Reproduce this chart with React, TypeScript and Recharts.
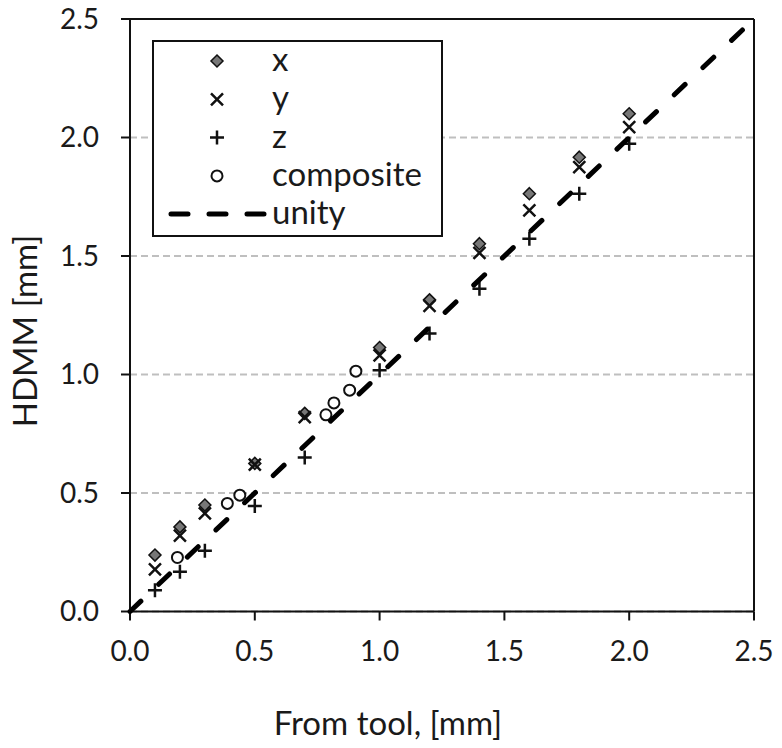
import {
  CartesianGrid,
  Label,
  Legend,
  ReferenceLine,
  Scatter,
  ScatterChart,
  XAxis,
  YAxis,
} from "recharts";

const toolValues = [0.1, 0.2, 0.3, 0.5, 0.7, 1.0, 1.2, 1.4, 1.6, 1.8, 2.0];
const xSeries = [0.238, 0.357, 0.449, 0.625, 0.836, 1.114, 1.315, 1.552, 1.763, 1.917, 2.1];
const ySeries = [0.178, 0.32, 0.414, 0.62, 0.82, 1.081, 1.29, 1.513, 1.693, 1.875, 2.044];
const zSeries = [0.09, 0.168, 0.256, 0.445, 0.65, 1.018, 1.173, 1.362, 1.573, 1.763, 1.974];
const compositeTool = [0.19, 0.39, 0.44, 0.785, 0.817, 0.88, 0.905];
const compositeHdmm = [0.228, 0.456, 0.491, 0.83, 0.88, 0.934, 1.014];
const unityValues = [0, 2.5];
const ticks = [0, 0.5, 1.0, 1.5, 2.0, 2.5];

const pair = (xs: number[], ys: number[]) => xs.map((x, i) => ({ x, y: ys[i] }));

const xData = pair(toolValues, xSeries);
const yData = pair(toolValues, ySeries);
const zData = pair(toolValues, zSeries);
const compositeData = pair(compositeTool, compositeHdmm);
const unityData = pair(unityValues, unityValues);

const FONT = "Lato, 'Open Sans', sans-serif";
const TEXT = "#1a1a1a";

const Diamond = ({ cx, cy }: any) => (
  <path
    d={`M${cx},${cy - 6} L${cx + 6},${cy} L${cx},${cy + 6} L${cx - 6},${cy} Z`}
    fill="#777"
    stroke="#111"
    strokeWidth={1.5}
  />
);

const Cross = ({ cx, cy }: any) => (
  <path
    d={`M${cx - 6},${cy - 6} L${cx + 6},${cy + 6} M${cx - 6},${cy + 6} L${cx + 6},${cy - 6}`}
    stroke="#111"
    strokeWidth={2.5}
  />
);

const Plus = ({ cx, cy }: any) => (
  <path
    d={`M${cx - 7},${cy} L${cx + 7},${cy} M${cx},${cy - 7} L${cx},${cy + 7}`}
    stroke="#111"
    strokeWidth={2.5}
  />
);

const Ring = ({ cx, cy }: any) => (
  <circle cx={cx} cy={cy} r={5.5} fill="#fff" stroke="#111" strokeWidth={2} />
);

const legendRows = [
  { name: "x", Shape: Diamond },
  { name: "y", Shape: Cross },
  { name: "z", Shape: Plus },
  { name: "composite", Shape: Ring },
];

function LegendBox() {
  return (
    <div
      style={{
        width: 291,
        height: 197,
        border: "2px solid #111",
        background: "#fff",
        boxSizing: "border-box",
      }}
    >
      <svg width={287} height={193} style={{ display: "block", overflow: "visible" }}>
        {legendRows.map((r, i) => (
          <g key={r.name}>
            <r.Shape cx={63} cy={19 + i * 38.3} />
            <text x={118} y={29 + i * 38.3} fontFamily={FONT} fontSize={33} fill={TEXT}>
              {r.name}
            </text>
          </g>
        ))}
        <line
          x1={17}
          y1={172}
          x2={111}
          y2={172}
          stroke="#000"
          strokeWidth={5}
          strokeDasharray="17 21"
          strokeLinecap="round"
        />
        <text x={118} y={182} fontFamily={FONT} fontSize={33} fill={TEXT}>
          unity
        </text>
      </svg>
    </div>
  );
}

export default function App() {
  return (
    <div style={{ position: "absolute", left: 0, top: 0, background: "#fff" }}>
      <ScatterChart width={782} height={748} margin={{ top: 19, right: 28, left: 0, bottom: 36.5 }}>
        <CartesianGrid
          vertical={false}
          stroke="#bfbfbf"
          strokeWidth={2}
          strokeDasharray="7 4"
        />
        <XAxis
          type="number"
          dataKey="x"
          domain={[0, 2.5]}
          ticks={ticks}
          interval={0}
          height={100}
          tickFormatter={(v: number) => v.toFixed(1)}
          tickSize={9}
          tickMargin={21}
          axisLine={{ stroke: "#111", strokeWidth: 2 }}
          tickLine={{ stroke: "#111", strokeWidth: 2 }}
          tick={{ fill: TEXT, fontSize: 28, fontFamily: FONT }}
        >
          <Label
            content={({ viewBox }: any) => (
              <text
                x={viewBox.x + 258}
                y={viewBox.y + 123.5}
                textAnchor="middle"
                fontFamily={FONT}
                fontSize={33}
                fill={TEXT}
              >
                From tool, [mm]
              </text>
            )}
          />
        </XAxis>
        <YAxis
          type="number"
          dataKey="y"
          domain={[0, 2.5]}
          ticks={ticks}
          interval={0}
          width={130}
          tickFormatter={(v: number) => v.toFixed(1)}
          tickSize={9}
          tickMargin={22}
          axisLine={{ stroke: "#111", strokeWidth: 2 }}
          tickLine={{ stroke: "#111", strokeWidth: 2 }}
          tick={{ fill: TEXT, fontSize: 28, fontFamily: FONT }}
        >
          <Label
            content={() => (
              <text
                x={37}
                y={331}
                transform="rotate(-90 37 331)"
                textAnchor="middle"
                fontFamily={FONT}
                fontSize={33}
                fill={TEXT}
              >
                HDMM [mm]
              </text>
            )}
          />
        </YAxis>
        <ReferenceLine y={2.5} stroke="#111" strokeWidth={2} />
        <ReferenceLine x={2.5} stroke="#111" strokeWidth={2} />
        <Scatter data={xData} shape={Diamond} legendType="none" isAnimationActive={false} />
        <Scatter data={yData} shape={Cross} legendType="none" isAnimationActive={false} />
        <Scatter data={zData} shape={Plus} legendType="none" isAnimationActive={false} />
        <Scatter data={compositeData} shape={Ring} legendType="none" isAnimationActive={false} />
        <Scatter
          data={unityData}
          line={{ stroke: "#000", strokeWidth: 5, strokeDasharray: "15 24.5", strokeLinecap: "round" }}
          shape={() => <g />}
          legendType="none"
          isAnimationActive={false}
        />
        <Legend
          layout="vertical"
          align="center"
          verticalAlign="middle"
          content={() => <LegendBox />}
          wrapperStyle={{ left: 152, top: 40, width: 291, height: 197 }}
        />
      </ScatterChart>
    </div>
  );
}
